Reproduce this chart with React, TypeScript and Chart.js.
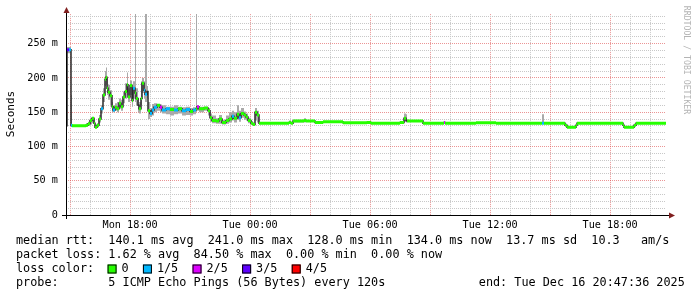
import React, { useEffect, useRef } from 'react';
import { Chart, registerables } from 'chart.js';

Chart.register(...registerables);

// ---- time frame: graph starts Mon 14:47:36 and covers 30 hours ----
const START_HOUR = 14 + 47.6 / 60;
const END_MINUTES = 1800;

// ---- samples (minutes after start) ----
const sampleMinutes = [
  0, 3, 9, 15, 18, 60, 66, 72, 78, 84, 87, 93, 99, 105, 111, 117, 120, 123, 126, 132,
  138, 141, 147, 153, 159, 165, 171, 177, 183, 186, 192, 198, 201, 207, 210, 216, 219, 225, 228, 234,
  237, 243, 246, 252, 258, 264, 273, 282, 288, 300, 312, 324, 336, 348, 360, 372, 381, 390, 393, 399,
  414, 426, 432, 438, 450, 459, 468, 480, 489, 498, 504, 513, 519, 525, 534, 540, 546, 555, 561, 567,
  573, 579, 669, 675, 681, 714, 720, 747, 771, 831, 903, 915, 1002, 1014, 1020, 1023, 1071, 1134, 1137, 1230,
  1290, 1428, 1434, 1497, 1503, 1530, 1533, 1671, 1674, 1704, 1710,
];
// median rtt (ms)
const medianMs = [
  130, 241, 241, 131, 130, 131, 133, 138, 141, 134, 128, 131, 140, 155, 175, 198, 201, 185, 179, 174,
  158, 153, 157, 155, 163, 158, 172, 180, 190, 172, 189, 167, 185, 178, 170, 160, 155, 170, 192, 182,
  176, 180, 152, 148, 153, 157, 160, 157, 153, 155, 154, 153, 155, 152, 154, 151, 153, 155, 158, 155,
  156, 152, 142, 138, 137, 140, 135, 138, 140, 144, 141, 147, 142, 148, 146, 143, 138, 134, 132, 150,
  146, 134, 135, 134, 137, 138, 137, 135, 136, 134.5, 135, 134, 135, 141, 138, 137, 134, 135, 134, 134.5,
  134, 134, 134, 131, 128, 131, 134, 131, 128, 131, 134,
];
// smoke band: lowest and highest ping (ms)
const smokeLowMs = [
  128, 236, 236, 129, 129, 129, 130, 132, 134, 130, 127, 128, 135, 148, 165, 188, 190, 175, 168, 160,
  150, 150, 152, 150, 155, 152, 163, 170, 175, 165, 175, 158, 170, 165, 160, 150, 148, 160, 178, 170,
  165, 170, 140, 143, 145, 150, 152, 150, 148, 147, 145, 147, 148, 145, 146, 145, 147, 150, 152, 150,
  152, 145, 136, 134, 133, 133, 132, 133, 135, 138, 135, 139, 136, 142, 139, 138, 134, 132, 131, 138,
  135, 133, 133, 133, 135, 135, 136, 134, 135, 134, 134, 133, 134, 136, 135, 136, 133, 134, 133, 134,
  133, 133, 133, 130, 127.5, 130, 133, 130, 127.5, 130, 133,
];
const smokeHighMs = [
  293, 245, 245, 175, 131, 134, 136, 142, 143, 138, 131, 134, 146, 160, 185, 210, 215, 200, 190, 182,
  165, 160, 163, 165, 170, 168, 180, 192, 208, 185, 196, 180, 195, 293, 185, 170, 165, 195, 200, 195,
  293, 188, 165, 156, 162, 163, 162, 161, 160, 158, 158, 160, 158, 157, 158, 156, 157, 293, 160, 158,
  158, 156, 148, 145, 141, 146, 139, 145, 150, 152, 150, 160, 152, 156, 151, 148, 142, 137, 134, 156,
  152, 135.5, 138, 135.5, 139, 141, 138, 136, 137, 135.5, 136, 135.5, 136, 148, 147, 138, 135.5, 136, 135.5, 135.5,
  135.5, 147, 135.5, 132, 129, 132, 135.5, 132, 129, 132, 135.5,
];
// lost pings out of 5
const lossCount = [
  1, 3, 1, 1, 0, 0, 0, 0, 0, 0, 0, 0, 0, 1, 0, 0, 0, 0, 0, 0,
  0, 1, 0, 0, 0, 0, 0, 0, 0, 0, 0, 0, 1, 0, 0, 0, 0, 0, 0, 1,
  1, 0, 0, 1, 1, 1, 0, 2, 1, 1, 0, 1, 0, 1, 1, 0, 1, 0, 2, 0,
  0, 0, 0, 0, 0, 0, 0, 0, 0, 1, 0, 0, 1, 0, 0, 0, 0, 0, 0, 0,
  0, 0, 0, 0, 0, 0, 0, 0, 0, 0, 0, 0, 0, 0, 0, 0, 0, 2, 0, 0,
  0, 1, 0, 0, 0, 0, 0, 0, 0, 0, 0,
];

const lossColors = ['#26ff00', '#00b8ff', '#dd00ff', '#5e00ff', '#ff0000'];
const lossLabels = ['0', '1/5', '2/5', '3/5', '4/5'];

// ---- axes ----
const xGridHours = [15, 16, 17, 18, 19, 20, 21, 22, 23, 24, 25, 26, 27, 28, 29, 30, 31, 32, 33, 34, 35, 36, 37, 38, 39, 40, 41, 42, 43, 44];
const xTickHours = [18, 24, 30, 36, 42];
const xTickLabels = ['Mon 18:00', 'Tue 00:00', 'Tue 06:00', 'Tue 12:00', 'Tue 18:00'];
const yGridValues = [0, 10, 20, 30, 40, 50, 60, 70, 80, 90, 100, 110, 120, 130, 140, 150, 160, 170, 180, 190, 200, 210, 220, 230, 240, 250, 260, 270, 280, 290];
const yTickValues = [0, 50, 100, 150, 200, 250];
const yTickLabels = ['0', '50 m', '100 m', '150 m', '200 m', '250 m'];
const Y_MAX = 293;

// ---- texts ----
const yAxisTitle = 'Seconds';
const watermark = 'RRDTOOL / TOBI OETIKER';
const legendLine1 = 'median rtt:  140.1 ms avg  241.0 ms max  128.0 ms min  134.0 ms now  13.7 ms sd  10.3   am/s';
const legendLine2 = 'packet loss: 1.62 % avg  84.50 % max  0.00 % min  0.00 % now';
const legendLine3 = 'loss color:';
const probeText = 'probe:       5 ICMP Echo Pings (56 Bytes) every 120s';
const endText = 'end: Tue Dec 16 20:47:36 2025';

const MONO = '"DejaVu Sans Mono", monospace';
const toHour = (m: number) => START_HOUR + m / 60;

function stepPoints(vals: number[]) {
  const pts = sampleMinutes.map((m, i) => ({ x: toHour(m), y: vals[i] }));
  pts.push({ x: toHour(END_MINUTES), y: vals[vals.length - 1] });
  return pts;
}

function lossSegments(level: number) {
  const pts: { x: number; y: number | null }[] = [];
  sampleMinutes.forEach((m, i) => {
    if (lossCount[i] !== level) return;
    const m2 = i + 1 < sampleMinutes.length ? sampleMinutes[i + 1] : END_MINUTES;
    pts.push({ x: toHour(m), y: medianMs[i] });
    pts.push({ x: toHour(m2), y: medianMs[i] });
    pts.push({ x: toHour(m2), y: null });
  });
  return pts;
}

const decoPlugin = {
  id: 'deco',
  beforeDraw(chart: any) {
    const ctx = chart.ctx;
    ctx.save();
    ctx.fillStyle = '#ffffff';
    ctx.fillRect(0, 0, chart.width, chart.height);
    ctx.restore();
  },
  afterDraw(chart: any) {
    const ctx = chart.ctx;
    const a = chart.chartArea;
    ctx.save();
    // axes
    ctx.strokeStyle = '#000';
    ctx.lineWidth = 1;
    ctx.beginPath();
    ctx.moveTo(a.left - 4, a.bottom + 0.5);
    ctx.lineTo(a.right + 4, a.bottom + 0.5);
    ctx.moveTo(a.left + 0.5, a.bottom + 4);
    ctx.lineTo(a.left + 0.5, a.top - 2);
    ctx.stroke();
    // arrows
    ctx.fillStyle = 'rgb(128,31,31)';
    ctx.beginPath();
    ctx.moveTo(a.right + 3, a.bottom - 2.5);
    ctx.lineTo(a.right + 9, a.bottom + 0.5);
    ctx.lineTo(a.right + 3, a.bottom + 3.5);
    ctx.closePath();
    ctx.fill();
    ctx.beginPath();
    ctx.moveTo(a.left - 2.5, a.top - 1);
    ctx.lineTo(a.left + 0.5, a.top - 7);
    ctx.lineTo(a.left + 3.5, a.top - 1);
    ctx.closePath();
    ctx.fill();

    // y axis title
    ctx.fillStyle = '#000';
    ctx.font = `11px ${MONO}`;
    ctx.textAlign = 'center';
    ctx.textBaseline = 'middle';
    ctx.save();
    ctx.translate(11, 114);
    ctx.rotate(-Math.PI / 2);
    ctx.fillText(yAxisTitle, 0, 0);
    ctx.restore();

    // watermark
    ctx.save();
    ctx.fillStyle = '#b4b4b4';
    ctx.font = `8.2px ${MONO}`;
    ctx.translate(686, 60);
    ctx.rotate(Math.PI / 2);
    ctx.fillText(watermark, 0, 0);
    ctx.restore();

    // legend
    const cw = 7.12;
    const x0 = 16;
    ctx.font = `11.8px ${MONO}`;
    ctx.textAlign = 'left';
    ctx.fillStyle = '#000';
    ctx.fillText(legendLine1, x0, 241);
    ctx.fillText(legendLine2, x0, 255);
    ctx.fillText(legendLine3, x0, 269);
    let bx = x0 + 13 * cw - 1;
    lossLabels.forEach((lab, i) => {
      ctx.fillStyle = lossColors[i];
      ctx.fillRect(bx, 264.5, 9, 9);
      ctx.strokeStyle = '#000';
      ctx.strokeRect(bx + 0.5, 265, 8, 8);
      ctx.fillStyle = '#000';
      const lx = bx + 14;
      ctx.fillText(lab, lx, 269);
      bx = lx + (lab.length + 2) * cw;
    });
    ctx.fillText(probeText, x0, 283);
    ctx.fillText(endText, x0 + 65 * cw, 283);
    ctx.restore();
  },
};

export default function App() {
  const ref = useRef<HTMLCanvasElement>(null);
  useEffect(() => {
    const gridGray = '#c8c8c8';
    const gridRed = 'rgba(222,79,79,0.6)';
    const datasets: any[] = [
      {
        label: 'smokeLow',
        data: stepPoints(smokeLowMs),
        stepped: 'before',
        borderWidth: 0,
        pointRadius: 0,
        fill: false,
        order: 10,
      },
      {
        label: 'smokeHigh',
        data: stepPoints(smokeHighMs),
        stepped: 'before',
        borderWidth: 0,
        pointRadius: 0,
        fill: '-1',
        backgroundColor: '#aaaaaa',
        order: 9,
      },
      {
        label: 'median',
        data: stepPoints(medianMs),
        stepped: 'before',
        borderColor: '#2a2a2a',
        borderWidth: 1.5,
        pointRadius: 0,
        fill: false,
        order: 5,
      },
      ...lossColors.map((c, L) => ({
        label: lossLabels[L],
        data: lossSegments(L),
        borderColor: c,
        borderWidth: 3,
        borderCapStyle: 'butt',
        pointRadius: 0,
        spanGaps: false,
        fill: false,
        order: 1,
      })),
    ];

    const chart = new Chart(ref.current as HTMLCanvasElement, {
      type: 'line',
      data: { datasets },
      plugins: [decoPlugin],
      options: {
        animation: false,
        responsive: false,
        devicePixelRatio: 1,
        layout: { padding: { left: 0, right: 31, top: 13, bottom: 0 } },
        plugins: { legend: { display: false }, tooltip: { enabled: false } },
        events: [],
        scales: {
          x: {
            type: 'linear',
            min: toHour(0),
            max: toHour(END_MINUTES),
            afterBuildTicks: (s: any) => {
              s.ticks = xGridHours.map((v) => ({ value: v }));
            },
            afterFit: (s: any) => {
              s.height = 82;
            },
            grid: {
              drawTicks: false,
              lineWidth: 1,
              color: (c: any) => (c.tick && c.tick.value % 3 === 0 ? gridRed : gridGray),
            },
            border: { display: false, dash: [1, 1] },
            ticks: {
              autoSkip: false,
              maxRotation: 0,
              padding: 4,
              color: '#000',
              font: { family: MONO, size: 10.2 },
              callback: (v: any) => {
                const i = xTickHours.indexOf(Math.round(Number(v)));
                return i >= 0 ? xTickLabels[i] : '';
              },
            },
          },
          y: {
            type: 'linear',
            min: 0,
            max: Y_MAX,
            afterBuildTicks: (s: any) => {
              s.ticks = yGridValues.map((v) => ({ value: v }));
            },
            afterFit: (s: any) => {
              s.width = 66;
            },
            grid: {
              drawTicks: false,
              lineWidth: 1,
              color: (c: any) => (c.tick && c.tick.value % 50 === 0 ? gridRed : gridGray),
            },
            border: { display: false, dash: [1, 1] },
            ticks: {
              autoSkip: false,
              padding: 8,
              color: '#000',
              font: { family: MONO, size: 10.2 },
              callback: (v: any) => {
                const i = yTickValues.indexOf(Math.round(Number(v)));
                return i >= 0 ? yTickLabels[i] : '';
              },
            },
          },
        },
      } as any,
    });
    return () => chart.destroy();
  }, []);

  return (
    <div style={{ position: 'absolute', left: 0, top: 0, width: 697, height: 297, background: '#fff' }}>
      <canvas ref={ref} width={697} height={297} style={{ display: 'block', width: 697, height: 297 }} />
    </div>
  );
}
